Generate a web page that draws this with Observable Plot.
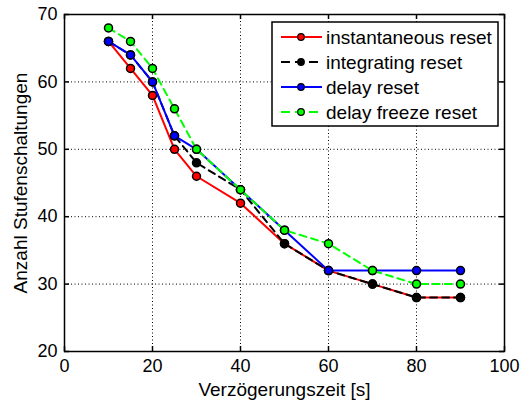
<!DOCTYPE html>
<html>
<head>
<meta charset="utf-8">
<script src="https://cdn.jsdelivr.net/npm/d3@7"></script>
<script src="https://cdn.jsdelivr.net/npm/@observablehq/plot@0.6"></script>
<style>
  html, body { margin: 0; padding: 0; background: #fff; }
  svg { display: block; }
</style>
</head>
<body>
<div id="chart"></div>
<script>
const delays = [10, 15, 20, 25, 30, 40, 50, 60, 70, 80, 90];
const instantaneousReset = [66, 62, 58, 50, 46, 42, 36, 32, 30, 28, 28];
const integratingReset   = [66, 64, 60, 52, 48, 44, 36, 32, 30, 28, 28];
const delayReset         = [66, 64, 60, 52, 50, 44, 38, 32, 32, 32, 32];
const delayFreezeReset   = [68, 66, 62, 56, 50, 44, 38, 36, 32, 30, 30];

const seriesNames = ["instantaneous reset", "integrating reset", "delay reset", "delay freeze reset"];
const seriesValues = [instantaneousReset, integratingReset, delayReset, delayFreezeReset];
const seriesColors = ["#ff0000", "#000000", "#0000ff", "#00ff00"];
const seriesDash = [null, "7,5", null, "7,5"];

const xTicks = [0, 20, 40, 60, 80, 100];
const yTicks = [20, 30, 40, 50, 60, 70];

const W = 522, H = 401;
const mL = 64, mR = 18, mT = 14, mB = 50;
const innerW = W - mL - mR, innerH = H - mT - mB;
const font = "'Liberation Sans', Arial, Helvetica, sans-serif";

const rows = seriesNames.map((name, i) =>
  delays.map((x, j) => ({series: name, x, y: seriesValues[i][j]}))
);

const seriesMarks = rows.flatMap((data, i) => [
  Plot.line(data, {x: "x", y: "y", stroke: seriesColors[i], strokeWidth: 2,
    strokeDasharray: seriesDash[i] || undefined}),
  Plot.dot(data, {x: "x", y: "y", r: 4, fill: seriesColors[i], stroke: "black", strokeWidth: 1.5})
]);

const plot = Plot.plot({
  width: W, height: H,
  marginLeft: mL, marginRight: mR, marginTop: mT, marginBottom: mB,
  style: {fontFamily: font, background: "white", color: "black"},
  x: {domain: [0, 100]},
  y: {domain: [20, 70]},
  marks: [
    Plot.gridX(xTicks.slice(1, -1), {stroke: "black", strokeOpacity: 1, strokeWidth: 1, strokeDasharray: "1,2.5"}),
    Plot.gridY(yTicks.slice(1, -1), {stroke: "black", strokeOpacity: 1, strokeWidth: 1, strokeDasharray: "1,2.5"}),
    ...seriesMarks,
    // inward ticks on four sides
    Plot.tickX(xTicks, {x: d => d, stroke: "black", strokeWidth: 1.5, insetTop: innerH - 5}),
    Plot.tickX(xTicks, {x: d => d, stroke: "black", strokeWidth: 1.5, insetBottom: innerH - 5}),
    Plot.tickY(yTicks, {y: d => d, stroke: "black", strokeWidth: 1.5, insetRight: innerW - 5}),
    Plot.tickY(yTicks, {y: d => d, stroke: "black", strokeWidth: 1.5, insetLeft: innerW - 5}),
    Plot.axisX(xTicks, {tickSize: 0, tickPadding: 8, fontSize: 18, label: null}),
    Plot.axisY(yTicks, {tickSize: 0, tickPadding: 7, fontSize: 18, label: null}),
    Plot.axisX({tickSize: 0, ticks: [], fontSize: 19, label: "Verzögerungszeit [s]",
      labelAnchor: "center", labelOffset: 44, labelArrow: "none"}),
    Plot.axisY({tickSize: 0, ticks: [], fontSize: 19, label: "Anzahl Stufenschaltungen",
      labelAnchor: "center", labelOffset: 51, labelArrow: "none"}),
    Plot.frame({stroke: "black", strokeWidth: 1.5})
  ]
});

// Legend (box in the upper right, like the original)
const svg = d3.select(plot);
const lg = svg.append("g").attr("font-family", font).attr("font-size", 19).attr("text-anchor", "start");
const bx = 272, by = 22, bw = 226, bh = 104;
lg.append("rect").attr("x", bx).attr("y", by).attr("width", bw).attr("height", bh)
  .attr("fill", "white").attr("stroke", "black").attr("stroke-width", 1.5);
seriesNames.forEach((name, i) => {
  const cy = by + 15 + i * 25;
  lg.append("line").attr("x1", 281).attr("x2", 322).attr("y1", cy).attr("y2", cy)
    .attr("stroke", seriesColors[i]).attr("stroke-width", 2)
    .attr("stroke-dasharray", seriesDash[i] ? "9,5" : null);
  lg.append("circle").attr("cx", 301).attr("cy", cy).attr("r", 3.3)
    .attr("fill", seriesColors[i]).attr("stroke", "black").attr("stroke-width", 1.2);
  lg.append("text").attr("x", 326).attr("y", cy).attr("dy", "0.35em")
    .attr("text-anchor", "start").attr("fill", "black").text(name);
});

document.getElementById("chart").appendChild(plot);
</script>
</body>
</html>
